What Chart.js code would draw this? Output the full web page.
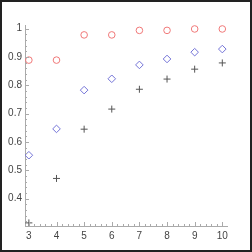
<!DOCTYPE html>
<html>
<head>
<meta charset="utf-8">
<script src="https://cdn.jsdelivr.net/npm/chart.js@4.4.0/dist/chart.umd.min.js"></script>
<style>
  body { margin: 0; background: #fff; }
  #wrap { width: 252px; height: 252px; border: 2px solid #222; box-sizing: border-box; background: #fff; }
  canvas { display: block; }
</style>
</head>
<body>
<div id="wrap"><canvas id="chart" width="248" height="248"></canvas></div>
<script>
// values
var xValues = [3, 4, 5, 6, 7, 8, 9, 10];
var circleVals = [0.889, 0.889, 0.978, 0.978, 0.994, 0.994, 0.999, 0.999];
var diamondVals = [0.553, 0.646, 0.783, 0.823, 0.872, 0.893, 0.917, 0.928];
var plusVals = [0.314, 0.471, 0.645, 0.716, 0.786, 0.822, 0.857, 0.879];
var xTicks = [3, 4, 5, 6, 7, 8, 9, 10];
var yTicks = [0.4, 0.5, 0.6, 0.7, 0.8, 0.9, 1];

function toPoints(vals) {
    var pts = [];
    for (let i = 0; i < xValues.length; i++) {
        pts.push({ x: xValues[i], y: vals[i] });
    }
    return pts;
}

// ticks drawn inward from the axis lines, major + minor
const innerTicks = {
    id: 'innerTicks',
    afterDraw: function (chart) {
        const ctx = chart.ctx;
        const xs = chart.scales.x;
        const ys = chart.scales.y;
        const a = chart.chartArea;
        ctx.save();
        ctx.strokeStyle = '#aaa';
        ctx.lineWidth = 1;
        ctx.beginPath();
        for (let v = 2.8; v <= 10.2; v += 0.2) {
            const val = Math.round(v * 10) / 10;
            if (val < xs.min || val > xs.max) continue;
            const px = Math.round(xs.getPixelForValue(val)) + 0.5;
            const len = Math.abs(val - Math.round(val)) < 0.01 ? 4 : 2;
            ctx.moveTo(px, a.bottom);
            ctx.lineTo(px, a.bottom - len);
        }
        for (let v = 0.30; v <= 1.02; v += 0.02) {
            const val = Math.round(v * 100) / 100;
            if (val < ys.min || val > ys.max) continue;
            const py = Math.round(ys.getPixelForValue(val)) + 0.5;
            const len = Math.abs(val * 10 - Math.round(val * 10)) < 0.01 ? 4 : 2;
            ctx.moveTo(a.left, py);
            ctx.lineTo(a.left + len, py);
        }
        ctx.stroke();
        ctx.restore();
    }
};

const tickFont = { family: "'Liberation Sans', Arial, sans-serif", size: 10 };

new Chart(document.getElementById('chart'), {
    type: 'scatter',
    data: {
        datasets: [
            {
                data: toPoints(circleVals),
                pointStyle: 'circle',
                pointRadius: 3.3,
                borderColor: 'rgb(240, 120, 120)',
                backgroundColor: 'rgba(0,0,0,0)',
                borderWidth: 1,
            },
            {
                data: toPoints(diamondVals),
                pointStyle: 'rectRot',
                pointRadius: 3.8,
                borderColor: 'rgb(115, 115, 215)',
                backgroundColor: 'rgba(0,0,0,0)',
                borderWidth: 1,
            },
            {
                data: toPoints(plusVals),
                pointStyle: 'cross',
                pointRadius: 3.5,
                borderColor: '#555',
                backgroundColor: 'rgba(0,0,0,0)',
                borderWidth: 1,
            },
        ],
    },
    options: {
        responsive: false,
        animation: false,
        layout: { padding: { top: 23, right: 23, left: 0, bottom: 0 } },
        plugins: { legend: { display: false }, tooltip: { enabled: false } },
        scales: {
            x: {
                type: 'linear',
                min: 2.86,
                max: 10.17,
                afterFit: function (s) { s.height = 24; },
                afterBuildTicks: function (s) { s.ticks = xTicks.map(v => ({ value: v })); },
                grid: { display: false, drawTicks: false, tickLength: 0 },
                border: { display: true, color: '#aaa', width: 1 },
                ticks: {
                    color: '#444', font: tickFont, padding: 4, maxRotation: 0,
                    callback: function (value) { return String(value); },
                },
            },
            y: {
                type: 'linear',
                min: 0.303,
                max: 1.013,
                afterFit: function (s) { s.width = 23; },
                afterBuildTicks: function (s) { s.ticks = yTicks.map(v => ({ value: v })); },
                grid: { display: false, drawTicks: false, tickLength: 0 },
                border: { display: true, color: '#aaa', width: 1 },
                ticks: {
                    color: '#444', font: tickFont, padding: 3,
                    callback: function (value) { return String(Math.round(value * 10) / 10); },
                },
            },
        },
    },
    plugins: [innerTicks],
});
</script>
</body>
</html>
